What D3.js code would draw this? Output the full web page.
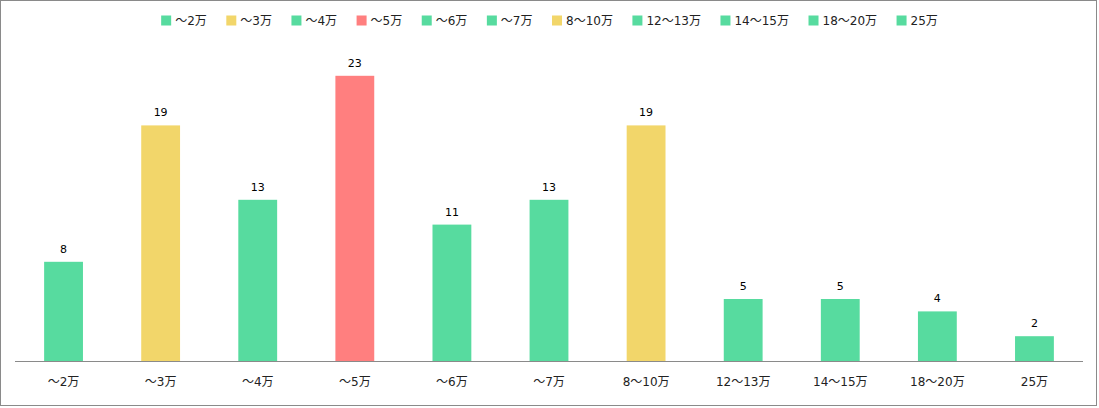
<!DOCTYPE html>
<html><head><meta charset="utf-8">
<script src="https://cdn.jsdelivr.net/npm/d3@7"></script>
<style>
html,body{margin:0;padding:0;background:#fff;}
svg{display:block;font-family:"DejaVu Sans","Noto Sans CJK JP",sans-serif;}
</style></head>
<body>
<svg id="chart" width="1099" height="408"></svg>
<script>
const categories = ["～2万","～3万","～4万","～5万","～6万","～7万","8～10万","12～13万","14～15万","18～20万","25万"];
const values = [8,19,13,23,11,13,19,5,5,4,2];
const colorKeys = ["g","y","g","r","g","g","y","g","g","g","g"];
const palette = {g:"#57DB9F", y:"#F2D66A", r:"#FF7F7F"};

const FONT = '"DejaVu Sans","Noto Sans CJK JP",sans-serif';
const W = 1099, H = 408;
const svg = d3.select("#chart");
svg.append("rect").attr("x",0.5).attr("y",0.5).attr("width",W-3).attr("height",H-3)
  .attr("fill","#fff").attr("stroke","#8a8a8a").attr("stroke-width",1);

const x = d3.scaleBand().domain(categories).range([15,1083]).paddingInner(0.6).paddingOuter(0.3);
const y = d3.scaleLinear().domain([0,25]).range([361,51]);

svg.append("g").selectAll("rect").data(categories).join("rect")
  .attr("x",d=>x(d)).attr("width",x.bandwidth())
  .attr("y",(d,i)=>y(values[i])).attr("height",(d,i)=>y(0)-y(values[i]))
  .attr("fill",(d,i)=>palette[colorKeys[i]]);

svg.append("g").selectAll("text").data(categories).join("text")
  .attr("x",d=>x(d)+x.bandwidth()/2).attr("y",(d,i)=>y(values[i])-9)
  .attr("text-anchor","middle").attr("font-size",11).attr("fill","#000")
  .text((d,i)=>values[i]);

const xAxis = svg.append("g").attr("transform",`translate(0,${y(0)})`)
  .call(d3.axisBottom(x).tickSize(0).tickPadding(16));
xAxis.select(".domain").attr("stroke","#8a8a8a").attr("d","M15,0.5H1083");
xAxis.selectAll("text").attr("font-size",12).attr("fill","#222")
  .style("font-family",FONT);

// legend
const GAP = 19.5;
const lg = svg.append("g");
const items = lg.selectAll("g").data(categories).join("g");
items.append("rect").attr("width",10).attr("height",10).attr("y",-5)
  .attr("fill",(d,i)=>palette[colorKeys[i]]);
items.append("text").attr("x",14).attr("dy","0.38em").attr("font-size",12).attr("fill","#222").text(d=>d);
let cx = 0;
const offs = [];
items.each(function(){
  const tw = d3.select(this).select("text").node().getComputedTextLength();
  offs.push(cx);
  cx += 14 + tw + GAP;
});
const totalW = cx - GAP;
const startX = (W - totalW)/2;
items.attr("transform",(d,i)=>`translate(${startX+offs[i]},20.5)`);
</script>
</body></html>
